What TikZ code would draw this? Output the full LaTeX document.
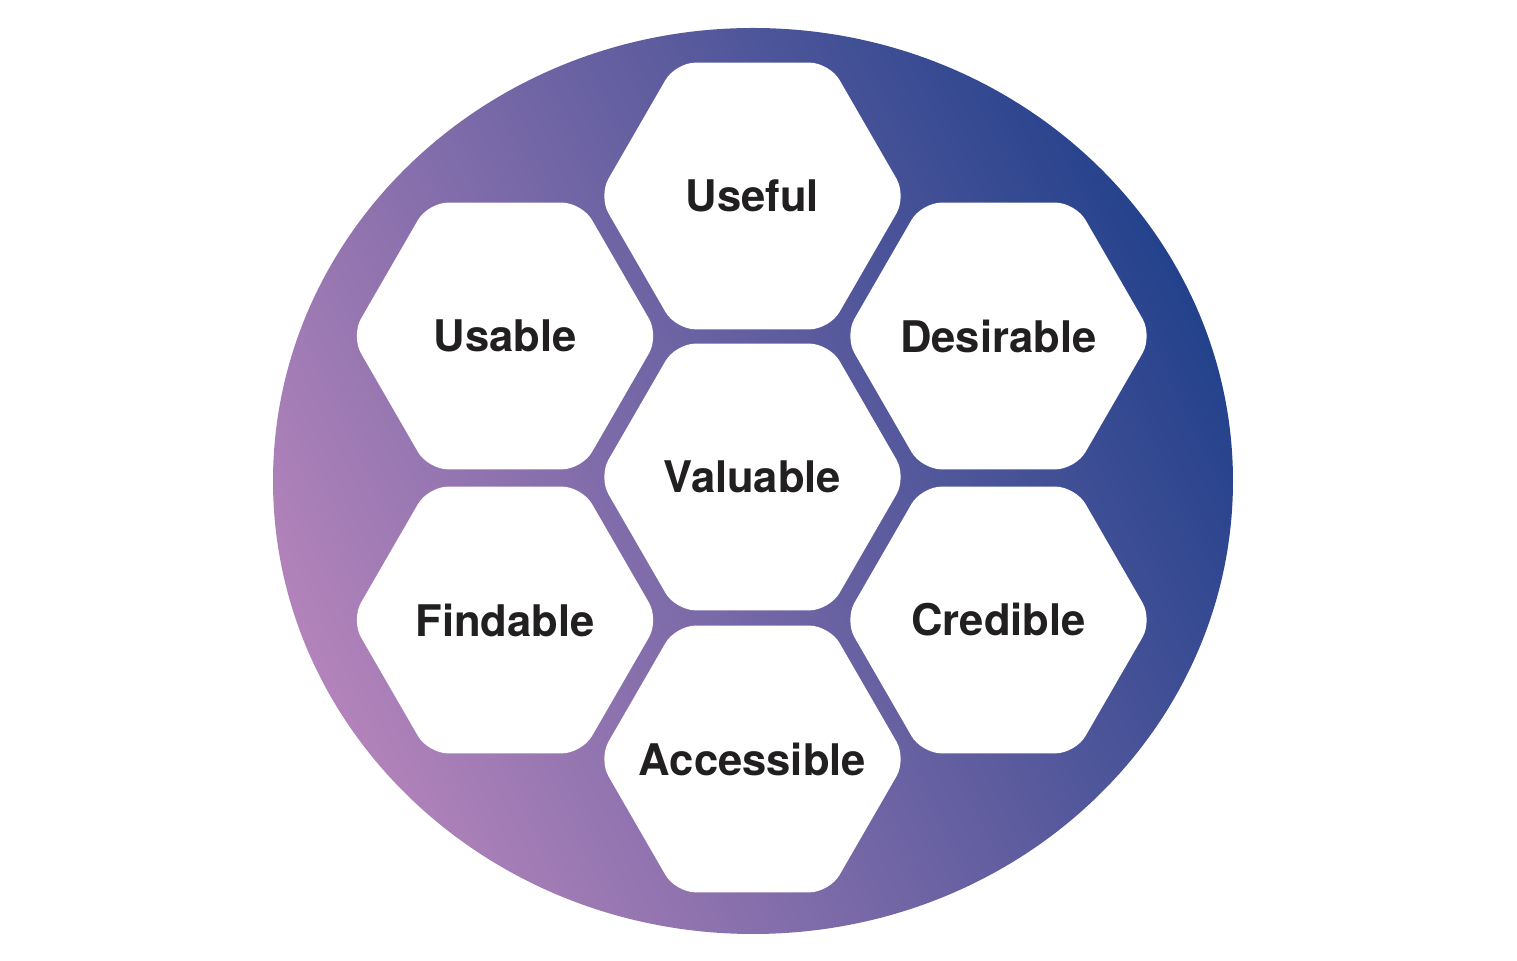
\documentclass[tikz,border=0pt]{standalone}
\usepackage{fontspec}
\setmainfont{TeX Gyre Heros}
\usetikzlibrary{shapes.geometric}
\definecolor{ink}{RGB}{33,31,32}
\definecolor{orchid}{RGB}{178,131,186}
\definecolor{navy}{RGB}{36,66,140}
\tikzset{
  every picture/.style={font=\fontsize{12.4}{14}\selectfont\bfseries},
  cell/.style={regular polygon, regular polygon sides=6, minimum size=30.8mm, inner sep=-8mm, fill=white, rounded corners=2mm, text=ink},
  disc/.style={top color=navy, bottom color=orchid, shading angle=-65},
}
\begin{document}
\begin{tikzpicture}
  \useasboundingbox (0,0) rectangle (15.17,9.61);
  % backdrop: one shaded ellipse, the honeycomb sits on top of it
  \shade[disc] (7.53,4.80) ellipse [x radius=4.80, y radius=4.53];
  \node[cell] (valuable) at (7.525,4.84) {Valuable};
  \node[cell] (useful) at (7.525,7.65) {Useful};
  \node[cell] (usable) at (5.05,6.25) {Usable};
  \node[cell] (desirable) at (9.985,6.25) {Desirable};
  \node[cell] (findable) at (5.05,3.41) {Findable};
  \node[cell] (credible) at (9.985,3.41) {Credible};
  \node[cell] (accessible) at (7.525,2.02) {Accessible};
\end{tikzpicture}
\end{document}
